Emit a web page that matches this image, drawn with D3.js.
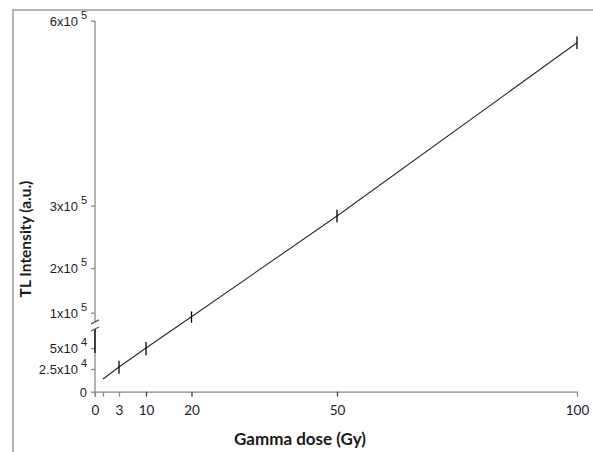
<!DOCTYPE html>
<html>
<head>
<meta charset="utf-8">
<script src="https://cdn.jsdelivr.net/npm/d3@7"></script>
<style>
  html, body { margin: 0; padding: 0; background: #fff; }
  svg { display: block; font-family: Lato, "Open Sans", sans-serif; }
</style>
</head>
<body>
<svg id="chart" width="593" height="452"></svg>
<script>
// Gamma dose (Gy) and measured TL intensity (a.u.)
const doses      = [1, 3, 10, 20, 50, 100];
const tlValues   = [14000, 27400, 50000, 94300, 283500, 564300];
// doses that carry an error bar, with their half-widths
const barDoses   = [3, 10, 20, 50, 100];
const barErrors  = [7500, 8500, 8500, 10000, 10000];

// axis ticks
const xTicks      = [0, 1, 3, 10, 20, 50, 100];
const xTickLabels = ["0", "", "3", "10", "20", "50", "100"];
const yTicksUpper = [100000, 200000, 300000, 600000];
const yTicksLower = [0, 25000, 50000];
const yTickLabels = {
  0: ["0", ""], 25000: ["2.5x10", "4"], 50000: ["5x10", "4"],
  100000: ["1x10", "5"], 200000: ["2x10", "5"], 300000: ["3x10", "5"], 600000: ["6x10", "5"]
};
// broken y axis: gap between these two intensities
const yBreak = [77000, 87000];

const svg = d3.select("#chart");

// outer frame
svg.append("rect")
  .attr("x", 13).attr("y", 10).attr("width", 620).attr("height", 480)
  .attr("fill", "none").attr("stroke", "#b4b4b4").attr("stroke-width", 2);

// piecewise scales (stretched low-dose / low-intensity region)
const x = d3.scaleLinear()
  .domain([0, 1, 3, 10, 20, 50, 100])
  .range([95, 103, 119, 146, 191.5, 337, 577]);
const y = d3.scaleLinear()
  .domain([0, 25000, 50000, 100000, 200000, 300000, 600000])
  .range([391.7, 369, 348, 312.7, 268, 205.7, 20.7]);

const axisColor = "#8a8a8a";

// ---- x axis
const xAxis = svg.append("g")
  .attr("transform", `translate(0,${y(0)})`)
  .call(d3.axisBottom(x).tickValues(xTicks)
    .tickFormat((d, i) => xTickLabels[i]).tickSize(5).tickSizeOuter(0));
xAxis.select(".domain").attr("stroke", axisColor).attr("stroke-width", 1.3);
xAxis.selectAll(".tick line").attr("stroke", (d) => (d === 10 || d === 20 || d === 50) ? "#444" : axisColor).attr("stroke-width", 1.3);
xAxis.selectAll(".tick text")
  .attr("y", 14).attr("fill", "#1c1c2e")
  .style("font-size", "13.5px").style("font-family", "Lato, sans-serif");

// ---- y axis (two segments)
function yAxisPart(ticks, cls) {
  const g = svg.append("g").attr("class", cls)
    .attr("transform", `translate(${x(0)},0)`)
    .call(d3.axisLeft(y).tickValues(ticks).tickSize(4).tickFormat(""));
  g.select(".domain").remove();
  g.selectAll(".tick line").attr("stroke", axisColor).attr("stroke-width", 1.3);
  g.selectAll(".tick").append("text")
    .attr("x", -8).attr("dy", "0.35em")
    .attr("text-anchor", "end").attr("fill", "#1c1c2e")
    .style("font-size", "13px")
    .each(function (d) {
      const [base, exp] = yTickLabels[d];
      const t = d3.select(this);
      t.append("tspan").text(base);
      if (exp) {
        t.append("tspan").attr("dx", 3).attr("dy", -7)
          .style("font-size", "11px").text(exp);
      }
    });
  return g;
}
yAxisPart(yTicksUpper, "y-upper");
yAxisPart(yTicksLower, "y-lower");

// axis spine segments
svg.append("line")
  .attr("x1", x(0)).attr("x2", x(0))
  .attr("y1", y(600000)).attr("y2", y(yBreak[1]))
  .attr("stroke", axisColor).attr("stroke-width", 1.3);
svg.append("line")
  .attr("x1", x(0)).attr("x2", x(0))
  .attr("y1", y(yBreak[0])).attr("y2", y(44000))
  .attr("stroke", "#111").attr("stroke-width", 1.6);
svg.append("line")
  .attr("x1", x(0)).attr("x2", x(0))
  .attr("y1", y(44000)).attr("y2", y(0) + 5)
  .attr("stroke", axisColor).attr("stroke-width", 1.3);

// break marks
[yBreak[0], yBreak[1]].forEach((v) => {
  svg.append("line")
    .attr("x1", x(0) - 4).attr("y1", y(v) + 2)
    .attr("x2", x(0) + 4).attr("y2", y(v) - 2)
    .attr("stroke", "#555").attr("stroke-width", 1.2);
});

// ---- data line
const pts = doses.map((d, i) => [d, tlValues[i]]);
svg.append("path")
  .datum(pts)
  .attr("fill", "none").attr("stroke", "#2a2a2a").attr("stroke-width", 1.1)
  .attr("d", d3.line().x((p) => x(p[0])).y((p) => y(p[1])));

// ---- error bars
const bars = barDoses.map((d, i) => ({ d, v: tlValues[doses.indexOf(d)], e: barErrors[i] }));
svg.append("g").selectAll("line")
  .data(bars).join("line")
  .attr("x1", (b) => x(b.d)).attr("x2", (b) => x(b.d))
  .attr("y1", (b) => y(b.v - b.e)).attr("y2", (b) => y(b.v + b.e))
  .attr("stroke", "#000").attr("stroke-width", 1.3);

// ---- axis titles
svg.append("text")
  .attr("x", 300).attr("y", 445)
  .attr("text-anchor", "middle").attr("fill", "#1a1a1a")
  .style("font-size", "17px").style("font-weight", "bold")
  .text("Gamma dose (Gy)");
svg.append("text")
  .attr("transform", "translate(31,239) rotate(-90)")
  .attr("text-anchor", "middle").attr("fill", "#1a1a1a")
  .style("font-size", "15.5px").style("font-weight", "bold")
  .text("TL Intensity (a.u.)");
</script>
</body>
</html>
